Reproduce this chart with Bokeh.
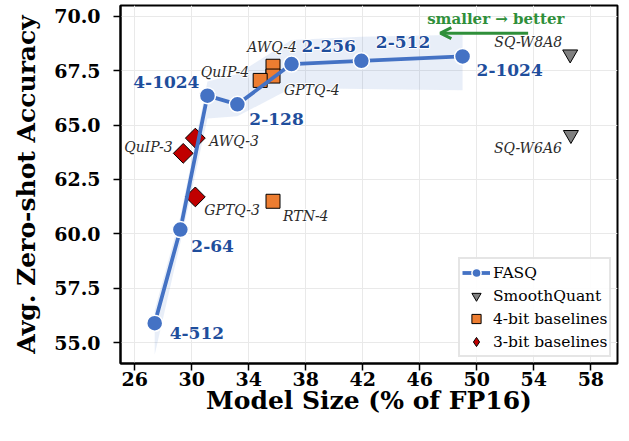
from bokeh.plotting import figure
from bokeh.models import (Range1d, FixedTicker, PrintfTickFormatter, Arrow, OpenHead,
                          Legend, LegendItem, ColumnDataSource, Label)
from bokeh.core.properties import value
from bokeh.embed import file_html
from bokeh.resources import INLINE

FONT = "DejaVu Serif"

# ---------------- data ----------------
fasq_size = [27.4, 29.2, 31.1, 33.2, 37.0, 41.9, 49.0]
fasq_acc = [55.9, 60.2, 66.35, 65.95, 67.8, 67.95, 68.15]
fasq_lower = [54.45, 59.6, 65.3, 65.4, 66.7, 66.65, 66.6]
fasq_upper = [56.5, 60.8, 67.0, 67.35, 68.9, 69.05, 69.15]
fasq_labels = ["4-512", "2-64", "4-1024", "2-128", "2-256", "2-512", "2-1024"]

sq_size = [56.55, 56.6]
sq_acc = [68.25, 64.55]
sq_labels = ["SQ-W8A8", "SQ-W6A6"]

b4_size = [35.7, 35.7, 34.8, 35.7]
b4_acc = [67.7, 67.25, 67.05, 61.5]
b4_labels = ["AWQ-4", "GPTQ-4", "QuIP-4", "RTN-4"]

b3_size = [30.25, 29.4, 30.25]
b3_acc = [64.4, 63.7, 61.7]
b3_labels = ["AWQ-3", "QuIP-3", "GPTQ-3"]

x_ticks = [26, 30, 34, 38, 42, 46, 50, 54, 58]
y_ticks = [55.0, 57.5, 60.0, 62.5, 65.0, 67.5, 70.0]

arrow_text = "smaller \u2192 better"
arrow_from = (53.6, 69.22)
arrow_to = (47.44, 69.22)
arrow_text_pos = (51.33, 69.86)

# ---------------- label placement (screen px offsets, y down) ----------------
fasq_dx = [15, 11, -8, 12, 10, 14.5, 14]
fasq_dy = [10, 16, -14, 15, -18.5, -19, 13.6]
fasq_align = ["left", "left", "right", "left", "left", "left", "left"]

sq_dx = [-8, -9]
sq_dy = [-12, 13.5]
sq_align = ["right", "right"]

b4_dx = [-1, 11, -11, 10]
b4_dy = [-19, 14, -8.6, 14.6]
b4_align = ["center", "left", "right", "left"]

b3_dx = [14, -10.6, 9]
b3_dy = [2.6, -6.7, 13.3]
b3_align = ["left", "right", "left"]

BLUE = "#4472C4"
LBL_BLUE = "#1F4E9C"
ORANGE = "#ED7D31"
RED = "#C00000"
GRAY = "#808080"
GREEN = "#2F8F3A"

p = figure(width=629, height=441, output_backend="svg", toolbar_location=None,
           x_range=Range1d(25.0, 59.87), y_range=Range1d(54.05, 70.49),
           min_border_left=120, min_border_right=12, min_border_top=5, min_border_bottom=78)
p.background_fill_color = "white"
p.border_fill_color = "white"
p.outline_line_color = "black"
p.outline_line_width = 2
p.outline_line_alpha = 1

p.xgrid.grid_line_color = "#e9e9e9"
p.ygrid.grid_line_color = "#e9e9e9"
p.xgrid.grid_line_width = 1
p.ygrid.grid_line_width = 1

p.xaxis.ticker = FixedTicker(ticks=x_ticks)
p.yaxis.ticker = FixedTicker(ticks=y_ticks)
p.yaxis.formatter = PrintfTickFormatter(format="%.1f")
for ax in (p.xaxis, p.yaxis):
    ax.major_label_text_font = FONT
    ax.major_label_text_font_style = "bold"
    ax.major_label_text_font_size = "19px"
    ax.major_label_text_color = "black"
    ax.axis_label_text_font = FONT
    ax.axis_label_text_font_style = "bold"
    ax.axis_label_text_font_size = "25px"
    ax.axis_label_text_color = "black"
    ax.major_tick_out = 7
    ax.major_tick_in = 0
    ax.minor_tick_out = 0
    ax.minor_tick_in = 0
    ax.major_tick_line_width = 1.5
    ax.axis_line_width = 2
    ax.axis_line_color = "black"
p.xaxis.axis_label = "Model Size (% of FP16)"
p.yaxis.axis_label = "Avg. Zero-shot Accuracy"
p.xaxis.major_label_standoff = 1
p.yaxis.major_label_standoff = 13
p.xaxis.axis_label_standoff = -3
p.yaxis.axis_label_standoff = 10

# band
p.varea(x=fasq_size, y1=fasq_lower, y2=fasq_upper, fill_color=BLUE, fill_alpha=0.12)

# baselines
sq_r = p.scatter(sq_size, sq_acc, marker="inverted_triangle", size=15,
                 fill_color=GRAY, line_color="black", line_width=1)
b4_r = p.scatter(b4_size, b4_acc, marker="square", size=14,
                 fill_color=ORANGE, line_color="black", line_width=1)
# diamond glyph (used for the legend swatch), covered by the rotated squares
b3_leg = p.scatter(b3_size, b3_acc, marker="diamond", size=14,
                   fill_color=RED, line_color="black", line_width=1)
b3_r = p.scatter(b3_size, b3_acc, marker="square", size=14, angle=0.785398,
                 fill_color=RED, line_color="black", line_width=1)

# FASQ
line_r = p.line(fasq_size, fasq_acc, line_color=BLUE, line_width=3.8)
dot_r = p.scatter(fasq_size, fasq_acc, marker="circle", size=16,
                  fill_color=BLUE, line_color="white", line_width=1.5)

def add_labels(xs, ys, texts, dx, dy, align, color, style, size):
    src = ColumnDataSource(dict(x=xs, y=ys, t=texts, dx=dx, dy=dy, a=align))
    common = dict(x="x", y="y", text="t", x_offset="dx", y_offset="dy", text_align="a",
                  text_baseline="middle", text_font=value(FONT), text_font_style=style,
                  text_font_size=size, source=src)
    # white halo underneath
    p.text(text_color="white", text_outline_color="white", **common)
    p.text(text_color=color, **common)

add_labels(b4_size, b4_acc, b4_labels, b4_dx, b4_dy, b4_align, "#2b2b2b", "italic", "14px")
add_labels(b3_size, b3_acc, b3_labels, b3_dx, b3_dy, b3_align, "#2b2b2b", "italic", "14px")
add_labels(sq_size, sq_acc, sq_labels, sq_dx, sq_dy, sq_align, "#2b2b2b", "italic", "14px")
add_labels(fasq_size, fasq_acc, fasq_labels, fasq_dx, fasq_dy, fasq_align, LBL_BLUE, "bold", "17px")

# arrow
p.add_layout(Arrow(end=OpenHead(size=11, line_color=GREEN, line_width=3),
                   x_start=arrow_from[0], y_start=arrow_from[1],
                   x_end=arrow_to[0], y_end=arrow_to[1],
                   line_color=GREEN, line_width=3))
p.add_layout(Label(x=arrow_text_pos[0], y=arrow_text_pos[1], text=arrow_text,
                   text_align="center", text_baseline="middle", text_font=FONT,
                   text_font_style="bold", text_font_size="15px", text_color=GREEN))

legend = Legend(items=[
    LegendItem(label="FASQ", renderers=[line_r, dot_r]),
    LegendItem(label="SmoothQuant", renderers=[sq_r]),
    LegendItem(label="4-bit baselines", renderers=[b4_r]),
    LegendItem(label="3-bit baselines", renderers=[b3_leg]),
], location=(338, 6))
legend.label_text_font = FONT
legend.label_text_font_size = "15.5px"
legend.label_text_color = "black"
legend.border_line_color = "#cccccc"
legend.border_line_width = 2
legend.background_fill_color = "white"
legend.background_fill_alpha = 0.9
legend.glyph_width = 28
legend.glyph_height = 23
legend.label_height = 18
legend.spacing = 0
legend.padding = 2
legend.margin = 0
legend.label_standoff = 3
p.add_layout(legend)

open("out.html", "w").write(file_html(p, INLINE))
